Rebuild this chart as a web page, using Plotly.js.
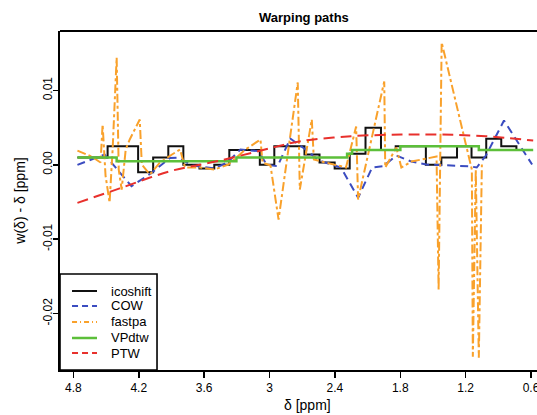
<!DOCTYPE html>
<html>
<head>
<meta charset="utf-8">
<script src="https://cdn.plot.ly/plotly-3.0.1.min.js"></script>
<style>html,body{margin:0;padding:0;background:#fff;}#chart{width:537px;height:415px;}</style>
</head>
<body>
<div id="chart"></div>
<script>
// icoshift (step path): breakpoints in ppm and segment values
const icoshiftX = [4.763, 4.486, 4.206, 4.068, 3.929, 3.791, 3.643, 3.507, 3.369, 3.089, 2.956, 2.679, 2.541, 2.402, 2.264, 2.119, 1.977, 1.842, 1.565, 1.423, 1.279, 1.146, 1.011, 0.873, 0.734];
const icoshiftY = [0.001, 0.0025, -0.001, 0.001, 0.0025, 0.0, -0.0005, 0.0, 0.002, 0.0, 0.0025, 0.0014, 0.0003, -0.0005, 0.0015, 0.005, 0.002, 0.0025, 0.0, 0.001, 0.0025, 0.001, 0.0035, 0.0025, 0.002];

// COW
const cowX = [4.763, 4.514, 4.267, 4.083, 3.914, 3.840, 3.710, 3.507, 3.387, 3.267, 3.101, 3.027, 2.926, 2.810, 2.681, 2.546, 2.344, 2.187, 2.058, 1.956, 1.836, 1.697, 1.559, 1.162, 1.098, 1.014, 0.848, 0.756, 0.682, 0.590];
const cowY = [0.0, 0.00139, -0.00288, -0.00108, 0.00091, 0.00098, -0.00009, -0.00049, 0.00031, 0.00206, 0.00185, 0.00004, -0.00019, 0.00354, 0.00219, 0.00058, -0.00036, -0.00442, -0.00036, -0.00019, 0.00125, 0.00044, 0.00004, -0.00019, -0.00036, 0.00125, 0.00596, 0.00381, 0.00206, 0.00004];

// fastpa
const fastpaX = [4.763, 4.634, 4.551, 4.532, 4.505, 4.468, 4.440, 4.403, 4.384, 4.357, 4.320, 4.283, 4.191, 4.172, 4.098, 4.006, 3.895, 3.821, 3.775, 3.637, 3.507, 3.378, 3.221, 3.083, 3.064, 2.991, 2.917, 2.741, 2.722, 2.612, 2.593, 2.482, 2.298, 2.205, 2.187, 1.947, 1.938, 1.836, 1.790, 1.698, 1.467, 1.448, 1.420, 1.143, 1.134, 1.107, 1.079, 1.051];
const fastpaY = [0.00192, 0.00112, 0.00031, 0.00542, -0.00144, -0.00507, 0.00206, 0.01444, -0.00063, -0.00332, 0.00206, 0.00341, 0.00610, 0.00004, -0.00131, 0.00031, 0.00139, 0.00206, -0.00036, -0.00036, -0.00063, 0.00004, 0.00206, 0.00341, 0.00031, -0.00009, -0.00736, 0.01108, -0.00332, 0.00610, 0.00071, 0.00031, -0.00036, 0.00515, -0.00467, 0.01121, -0.00036, 0.00233, -0.00036, 0.00044, 0.00112, -0.01678, 0.01646, -0.00063, -0.02580, -0.00063, -0.02594, 0.00004];

// VPdtw (step path)
const vpdtwX = [4.763, 4.403, 3.304, 2.288, 2.242, 1.799, 1.079, 0.580];
const vpdtwY = [0.001, 0.0005, 0.001, 0.0015, 0.002, 0.0025, 0.002, 0.002];

// PTW (smooth)
const ptwX = [4.763, 4.375, 3.914, 3.452, 2.944, 2.713, 2.252, 1.790, 1.420, 1.014, 0.580];
const ptwY = [-0.00511, -0.00317, -0.00086, 0.00058, 0.00242, 0.00318, 0.00385, 0.00407, 0.00407, 0.00385, 0.00327];

const seriesNames = ['icoshift', 'COW', 'fastpa', 'VPdtw', 'PTW'];
const xTickVals = [4.8, 4.2, 3.6, 3.0, 2.4, 1.8, 1.2, 0.6];
const xTickText = ['4.8', '4.2', '3.6', '3', '2.4', '1.8', '1.2', '0.6'];
const yTickVals = [-0.02, -0.01, 0.0, 0.01];
const yTickText = ['-0.02', '-0.01', '0.00', '0.01'];

const FONT = 'Arial, "Liberation Sans", Helvetica, sans-serif';

const lineStyles = [
  {color: '#111111', width: 2, shape: 'hv'},
  {color: '#3b4cc0', width: 2, dash: '8px,5px'},
  {color: '#f9a12b', width: 2, dash: 'dashdot'},
  {color: '#5cbf3a', width: 2.5, shape: 'hv'},
  {color: '#e8302c', width: 2, dash: '11px,6px', shape: 'spline'}
];
const xs = [icoshiftX, cowX, fastpaX, vpdtwX, ptwX];
const ys = [icoshiftY, cowY, fastpaY, vpdtwY, ptwY];

const traces = seriesNames.map((n, i) => ({
  name: n, x: xs[i], y: ys[i], mode: 'lines', line: lineStyles[i], showlegend: false
}));

// custom legend (compact, like the R base-graphics legend)
const legTop = 0.2832, legRight = 0.2034;
const rowY = [0.2330, 0.1888, 0.1416, 0.0944, 0.0501];
const shapes = [
  {type: 'line', xref: 'paper', yref: 'paper', x0: 0, x1: 1, y0: 1, y1: 1, line: {color: '#000', width: 2}},
  {type: 'rect', xref: 'paper', yref: 'paper', x0: 0, x1: legRight, y0: 0, y1: legTop, fillcolor: '#ffffff', line: {color: '#000', width: 1.6}, layer: 'above'}
];
const annotations = [];
seriesNames.forEach((n, i) => {
  const st = lineStyles[i];
  shapes.push({type: 'line', xref: 'paper', yref: 'paper', x0: 0.0252, x1: 0.0776, y0: rowY[i], y1: rowY[i],
    line: {color: st.color, width: st.width, dash: st.dash === 'dashdot' ? '5px,3px,1px,3px' : (st.dash ? '6px,4px' : 'solid')}, layer: 'above'});
  annotations.push({xref: 'paper', yref: 'paper', x: 0.1027, y: rowY[i], xanchor: 'left', yanchor: 'middle',
    text: n, showarrow: false, font: {family: FONT, size: 13, color: '#000'}});
});
annotations.push({xref: 'paper', yref: 'paper', x: 0.518, y: -0.103, xanchor: 'center', yanchor: 'middle',
  text: 'δ [ppm]', showarrow: false, font: {family: FONT, size: 14, color: '#000'}});

const layout = {
  width: 537, height: 415,
  margin: {l: 60, r: 0, t: 31, b: 45, pad: 0},
  paper_bgcolor: '#ffffff', plot_bgcolor: '#ffffff',
  font: {family: FONT, size: 12, color: '#000'},
  showlegend: false,
  title: {text: '<b>Warping paths</b>', font: {family: FONT, size: 13, color: '#000'}, x: 0.566, xanchor: 'center', y: 0.957, yanchor: 'middle'},
  xaxis: {
    range: [4.923, 0.545], tickvals: xTickVals, ticktext: xTickText,
    ticks: 'outside', ticklen: 6, tickwidth: 1.5, tickcolor: '#000', ticklabeloverflow: 'allow',
    showgrid: false, zeroline: false, showline: true, linecolor: '#000', linewidth: 2,
    tickfont: {family: FONT, size: 12, color: '#000'}
  },
  yaxis: {
    range: [-0.02759, 0.0180], tickvals: yTickVals, ticktext: yTickText,
    ticks: 'outside', ticklen: 5, tickwidth: 1.5, tickcolor: '#000', tickangle: -90,
    ticklabelstandoff: -4,
    showgrid: false, zeroline: false, showline: true, linecolor: '#000', linewidth: 2,
    tickfont: {family: FONT, size: 12, color: '#000'},
    title: {text: 'w(δ) - δ [ppm]', font: {family: FONT, size: 14, color: '#000'}, standoff: 12}
  },
  shapes: shapes,
  annotations: annotations
};

Plotly.newPlot('chart', traces, layout, {displayModeBar: false, staticPlot: true});
</script>
</body>
</html>
